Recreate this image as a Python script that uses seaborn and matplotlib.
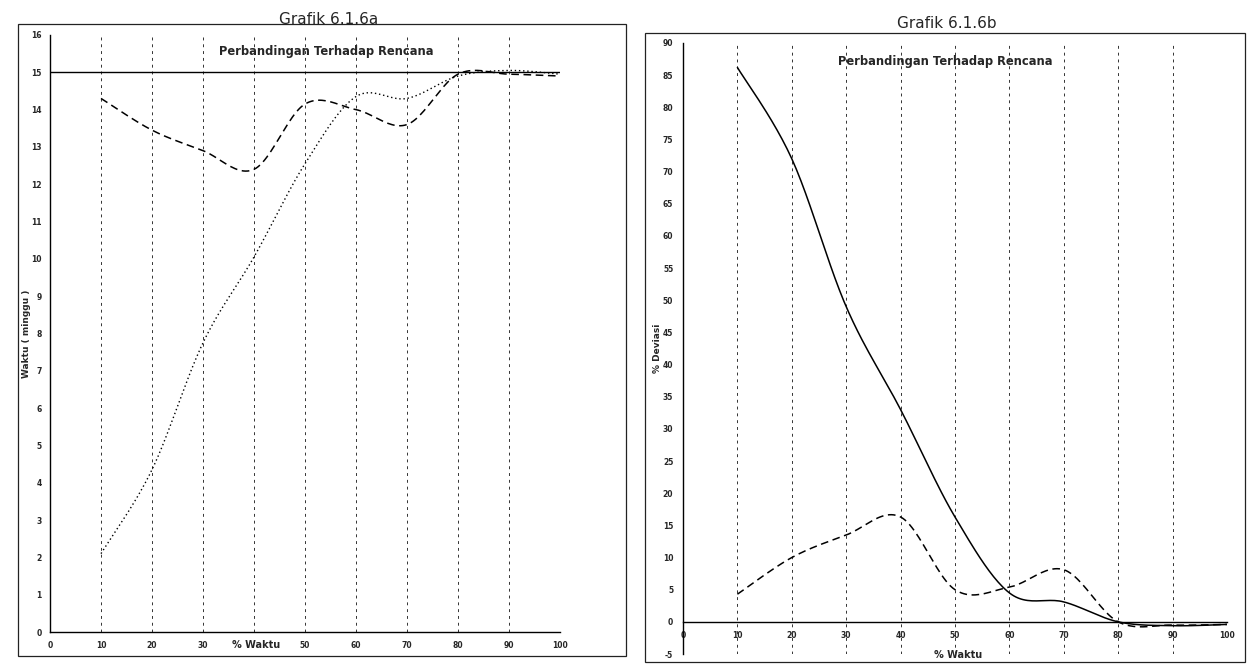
import numpy as np
import matplotlib
matplotlib.use("Agg")
import matplotlib.pyplot as plt
from matplotlib.patches import Rectangle
import seaborn as sns

# % waktu (progress of time)
waktu = [10, 20, 30, 40, 50, 60, 70, 80, 90, 100]
waktu_full = [0, 10, 20, 30, 40, 50, 60, 70, 80, 90, 100]

# Grafik 6.1.6a : waktu (minggu)
rencana_minggu = [15, 15, 15, 15, 15, 15, 15, 15, 15, 15, 15]
prediksi_a = [14.3, 13.45, 12.9, 12.4, 14.15, 14.0, 13.6, 14.95, 14.95, 14.9]
prediksi_b = [2.1, 4.35, 7.75, 10.05, 12.55, 14.35, 14.3, 14.9, 15.05, 14.95]

# Grafik 6.1.6b : % deviasi
deviasi_a = [86.2, 72.0, 49.0, 33.0, 16.3, 4.5, 3.1, 0.0, -0.6, -0.4]
deviasi_b = [4.3, 10.0, 13.5, 16.3, 5.0, 5.4, 8.1, 0.0, -0.5, -0.4]

yticks_a = list(range(0, 17))
yticks_b = list(range(-5, 91, 5))
xticks_a = list(range(0, 101, 10))
# the "40" position of chart a is taken by the axis title
xticklabels_a = ["" if v == 40 else str(v) for v in xticks_a]
xticklabels_b = [str(v) for v in xticks_a]


def smooth(x, y, n=24):
    """Smoothed curve through the points (Bezier segments, spreadsheet style)."""
    p = np.column_stack([x, y]).astype(float)
    out = []
    for i in range(len(p) - 1):
        p0 = p[i - 1] if i > 0 else p[i]
        p1, p2 = p[i], p[i + 1]
        p3 = p[i + 2] if i + 2 < len(p) else p[i + 1]
        c1 = p1 + (p2 - p0) / 6.0
        c2 = p2 - (p3 - p1) / 6.0
        t = np.linspace(0, 1, n, endpoint=(i == len(p) - 2))[:, None]
        seg = ((1 - t) ** 3) * p1 + 3 * ((1 - t) ** 2) * t * c1 + 3 * (1 - t) * t ** 2 * c2 + t ** 3 * p2
        out.append(seg)
    pts = np.vstack(out)
    return pts[:, 0], pts[:, 1]


sns.set_style("white")
plt.rcParams["font.family"] = ["DejaVu Sans"]

W, H = 1252, 664
fig = plt.figure(figsize=(W / 100, H / 100), dpi=100)


def px_axes(x0, x1, ytop, ybot):
    return fig.add_axes([x0 / W, 1 - ybot / H, (x1 - x0) / W, (ybot - ytop) / H])


# outer frames of the two charts
for (x0, y0, x1, y1) in [(18, 24, 626, 656), (645, 33, 1245, 662)]:
    fig.patches.append(Rectangle((x0 / W, 1 - y1 / H), (x1 - x0) / W, (y1 - y0) / H,
                                 transform=fig.transFigure, fill=False,
                                 edgecolor="#222222", linewidth=0.9))

grid_kw = dict(color="#333333", linewidth=0.7, linestyle=(0, (3, 4)))
tick_font = dict(fontsize=5.5, fontweight="bold")
head_font = dict(fontsize=8.3, fontweight="bold")

# ---------------- Grafik 6.1.6a ----------------
ax1 = px_axes(50, 560, 35, 632)
ax1.set_xlim(0, 100)
ax1.set_ylim(0, 16)

for xv in xticks_a[1:]:
    ax1.axvline(xv, **grid_kw, zorder=1)

sns.lineplot(x=waktu_full, y=rencana_minggu, ax=ax1, color="black", linewidth=1.0,
             estimator=None, sort=False, zorder=3)
xs, ys = smooth(waktu, prediksi_a)
sns.lineplot(x=xs, y=ys, ax=ax1, color="black", linewidth=1.1, linestyle=(0, (5, 3)),
             estimator=None, sort=False, zorder=3)
xs, ys = smooth(waktu, prediksi_b)
sns.lineplot(x=xs, y=ys, ax=ax1, color="black", linewidth=1.0, linestyle=(0, (1, 2)),
             estimator=None, sort=False, zorder=3)

ax1.set_xticks(xticks_a)
ax1.set_xticklabels(xticklabels_a, **tick_font)
ax1.set_yticks(yticks_a)
ax1.set_yticklabels([str(v) for v in yticks_a], **tick_font)
ax1.tick_params(axis="x", direction="inout", length=5, width=0.7, pad=4)
ax1.tick_params(axis="y", direction="out", length=3, width=0.7, pad=3)
for s in ["top", "right"]:
    ax1.spines[s].set_visible(False)
for s in ["left", "bottom"]:
    ax1.spines[s].set_color("black")
    ax1.spines[s].set_linewidth(1.0)

ax1.set_ylabel("Waktu ( minggu )", fontsize=6.5, fontweight="bold")
ax1.yaxis.set_label_coords(-0.038, 0.5)
ax1.set_xlabel("% Waktu", fontsize=7, fontweight="bold")
ax1.xaxis.set_label_coords(0.405, -0.014)
ax1.text(0.541, 0.972, "Perbandingan Terhadap Rencana", transform=ax1.transAxes,
         ha="center", va="center", **head_font)
fig.text(329 / W, 1 - 19 / H, "Grafik 6.1.6a", ha="center", va="center", fontsize=11)

# ---------------- Grafik 6.1.6b ----------------
ax2 = px_axes(683, 1227, 43, 654)
ax2.set_xlim(0, 100)
ax2.set_ylim(-5, 90)

for xv in xticks_a[1:]:
    ax2.axvline(xv, **grid_kw, zorder=1)

xs, ys = smooth(waktu, deviasi_a)
sns.lineplot(x=xs, y=ys, ax=ax2, color="black", linewidth=1.1,
             estimator=None, sort=False, zorder=3)
xs, ys = smooth(waktu, deviasi_b)
sns.lineplot(x=xs, y=ys, ax=ax2, color="black", linewidth=1.1, linestyle=(0, (5, 3)),
             estimator=None, sort=False, zorder=3)

ax2.spines["bottom"].set_position(("data", 0))
ax2.set_xticks(xticks_a)
ax2.set_xticklabels(xticklabels_b, **tick_font)
ax2.set_yticks(yticks_b)
ax2.set_yticklabels([str(v) for v in yticks_b], **tick_font)
ax2.tick_params(axis="x", direction="inout", length=5, width=0.7, pad=4)
ax2.tick_params(axis="y", direction="out", length=3, width=0.7, pad=4)
for s in ["top", "right"]:
    ax2.spines[s].set_visible(False)
for s in ["left", "bottom"]:
    ax2.spines[s].set_color("black")
    ax2.spines[s].set_linewidth(1.0)

ax2.set_ylabel("% Deviasi", fontsize=6.5, fontweight="bold")
ax2.yaxis.set_label_coords(-0.038, 0.5)
ax2.set_xlabel("% Waktu", fontsize=7, fontweight="bold")
ax2.xaxis.set_label_coords(0.505, 0.006)
ax2.text(0.482, 0.969, "Perbandingan Terhadap Rencana", transform=ax2.transAxes,
         ha="center", va="center", **head_font)
fig.text(947 / W, 1 - 23 / H, "Grafik 6.1.6b", ha="center", va="center", fontsize=11)

fig.savefig("out.png", dpi=100, facecolor="white")
